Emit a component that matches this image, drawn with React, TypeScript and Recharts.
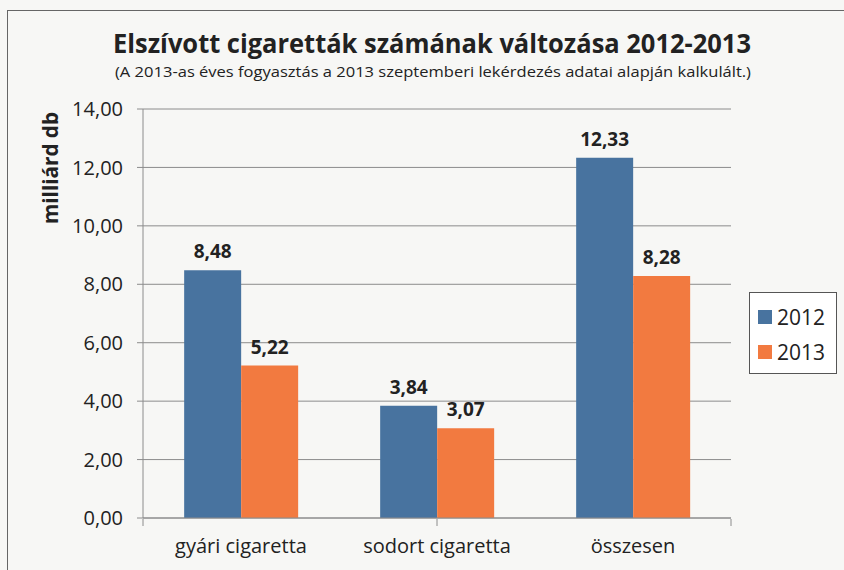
import { BarChart, Bar, XAxis, YAxis, CartesianGrid, LabelList } from 'recharts';

const categories = ['gyári cigaretta', 'sodort cigaretta', 'összesen'];
const values2012 = [8.48, 3.84, 12.33];
const values2013 = [5.22, 3.07, 8.28];
const yTicks = [0, 2, 4, 6, 8, 10, 12, 14];
const categoryEdges = [0, 1, 2, 3];

const data = categories.map((name, i) => ({ name, y2012: values2012[i], y2013: values2013[i] }));

const FONT = '"Open Sans", sans-serif';
const BLUE = '#48739f';
const ORANGE = '#f27a40';

const fmt = (v: any) => Number(v).toFixed(2).replace('.', ',');

const LegendBox = () => (
  <div
    style={{
      position: 'absolute',
      left: 749,
      top: 292,
      border: '1.5px solid #555',
      background: '#fff',
      width: 88,
      height: 82,
      boxSizing: 'border-box',
      padding: '6px 0 0 8px',
      fontFamily: FONT,
      fontSize: 21,
      color: '#222',
    }}
  >
    {[
      ['2012', BLUE],
      ['2013', ORANGE],
    ].map(([label, color]) => (
      <div key={label} style={{ display: 'flex', alignItems: 'center', height: 35 }}>
        <span style={{ width: 14, height: 14, background: color, marginRight: 5 }} />
        {label}
      </div>
    ))}
  </div>
);

export default function App() {
  return (
    <div style={{ position: 'fixed', left: 0, top: 0, width: 844, height: 570, background: '#f7f7f5', overflow: 'hidden' }}>
      <div style={{ position: 'absolute', left: 7, top: 10, width: 900, height: 600, border: '1.5px solid #666', boxSizing: 'border-box' }} />
      <svg style={{ position: 'absolute', left: 0, top: 0 }} width={844} height={570}>
        <text x={113} y={53} textLength={638} lengthAdjust="spacingAndGlyphs" fontFamily={FONT} fontWeight="bold" fontSize={27} fill="#222">
          Elszívott cigaretták számának változása 2012-2013
        </text>
        <text x={115} y={77} textLength={636} lengthAdjust="spacingAndGlyphs" fontFamily={FONT} fontSize={14} fill="#222">
          (A 2013-as éves fogyasztás a 2013 szeptemberi  lekérdezés  adatai alapján kalkulált.)
        </text>
        <text
          x={0}
          y={0}
          transform="translate(58,168) rotate(-90)"
          textAnchor="middle"
          textLength={112}
          lengthAdjust="spacingAndGlyphs"
          fontFamily={FONT}
          fontWeight="bold"
          fontSize={22}
          fill="#222"
        >
          milliárd db
        </text>
      </svg>
      <div style={{ position: 'absolute', left: 0, top: 0 }}>
        <BarChart
          width={844}
          height={570}
          data={data}
          margin={{ top: 109, right: 113, bottom: 10, left: 0 }}
          barGap={0}
          barCategoryGap="21%"
        >
          <CartesianGrid vertical={false} stroke="#8c8c8c" xAxisId="cat" />
          <XAxis
            xAxisId="cat"
            dataKey="name"
            height={1}
            stroke="#8c8c8c"
            tickLine={false}
            tick={{ fill: '#222', fontSize: 20, fontFamily: FONT }}
            tickMargin={15}
          />
          <XAxis
            xAxisId="edges"
            type="number"
            domain={[0, 3]}
            ticks={categoryEdges}
            interval={0}
            height={41}
            axisLine={false}
            tickLine={{ stroke: '#8c8c8c' }}
            tickSize={7}
            tick={() => <g />}
          />
          <YAxis
            width={143}
            domain={[0, 14]}
            ticks={yTicks}
            interval={0}
            stroke="#8c8c8c"
            tickSize={6}
            tickMargin={14}
            tickFormatter={fmt}
            tick={{ fill: '#222', fontSize: 20, fontFamily: FONT }}
          />
          <Bar xAxisId="cat" dataKey="y2012" fill={BLUE} isAnimationActive={false}>
            <LabelList dataKey="y2012" position="top" offset={12} formatter={fmt} fill="#222" fontSize={19} fontWeight="bold" fontFamily={FONT} />
          </Bar>
          <Bar xAxisId="cat" dataKey="y2013" fill={ORANGE} isAnimationActive={false}>
            <LabelList dataKey="y2013" position="top" offset={12} formatter={fmt} fill="#222" fontSize={19} fontWeight="bold" fontFamily={FONT} />
          </Bar>
        </BarChart>
      </div>
      <LegendBox />
    </div>
  );
}
